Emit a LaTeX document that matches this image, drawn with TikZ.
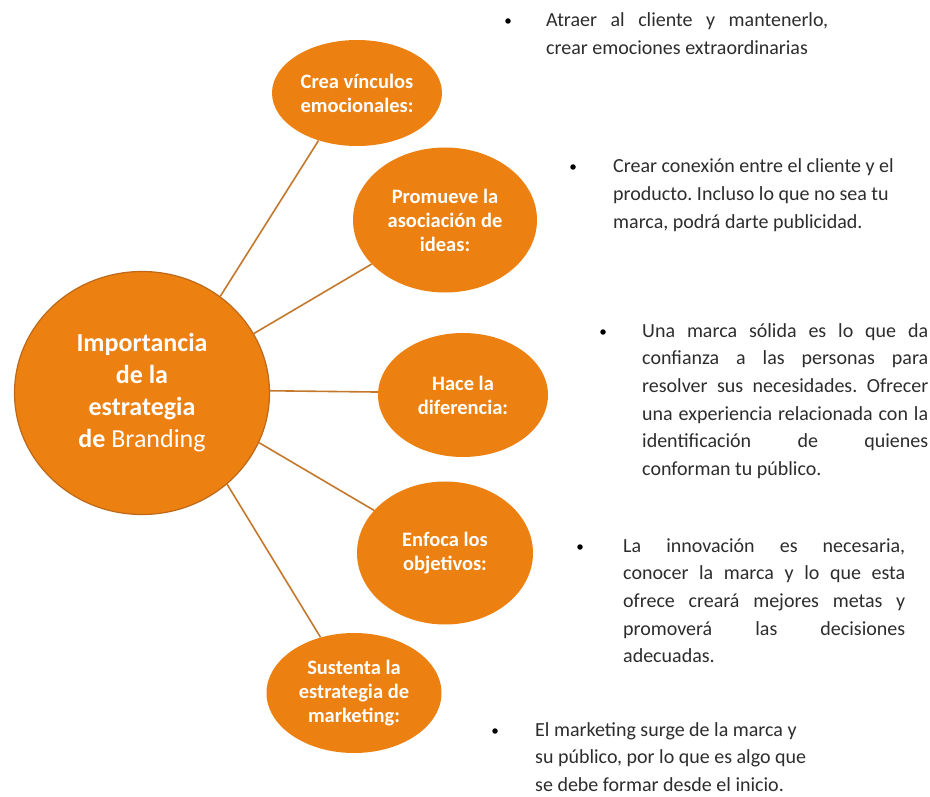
\documentclass[tikz,border=0pt]{standalone}
\usepackage{fontspec}
\setmainfont{Carlito}
\usetikzlibrary{shapes.geometric}
\definecolor{orangefill}{RGB}{236,128,16}
\definecolor{orangeedge}{RGB}{190,105,25}
\definecolor{linkcol}{RGB}{196,120,44}
\definecolor{txtcol}{RGB}{45,45,45}
\tikzset{
  hub/.style={ellipse, fill=orangefill, draw=orangeedge, line width=1.2pt, inner sep=0pt, text=white, align=center,
    font=\fontsize{26}{32}\selectfont\bfseries},
  topic/.style={ellipse, fill=orangefill, draw=none, inner sep=0pt, text=white, align=center,
    font=\fontsize{20.5}{24}\selectfont\bfseries},
  link/.style={draw=linkcol, line width=1.6pt},
  bul/.style={circle, fill=black, minimum size=5.5pt, inner sep=0pt},
  desc/.style={anchor=base west, inner sep=0pt, text=txtcol, font=\fontsize{20}{27.7}\selectfont}
}
\newcommand{\jl}[2]{\makebox[#1][s]{#2}}
\frenchspacing
\begin{document}
\begin{tikzpicture}[x=1pt,y=-1pt]
\useasboundingbox (0,0) rectangle (930,797);
\fill[white] (0,0) rectangle (930,797);

\node[hub, minimum width=255pt, minimum height=243pt] (c) at (142,393) {Importancia\\de la\\estrategia\\de {\mdseries Branding}};

\node[topic, minimum width=170pt, minimum height=106pt] (e1) at (357,93) {Crea vínculos\\emocionales:};
\node[topic, minimum width=184pt, minimum height=145pt] (e2) at (445,220) {Promueve la\\asociación de\\ideas:};
\node[topic, minimum width=170pt, minimum height=124pt] (e3) at (463,395) {Hace la\\diferencia:};
\node[topic, minimum width=176pt, minimum height=143pt] (e4) at (445,553) {Enfoca los\\objetivos:};
\node[topic, minimum width=175pt, minimum height=120pt] (e5) at (354,693) {Sustenta la\\estrategia de\\marketing:};

\draw[link] (c.51) -- (e1.231);
\draw[link] (c.28) -- (e2.211);
\draw[link] (c.1.5) -- (e3.178.6);
\draw[link] (c.-23.4) -- (e4.149);
\draw[link] (c.-47.7) -- (e5.121);

\node[bul] (b1) at (508,21) {};
\node[desc] (t1) at (546,27) {\parbox[t]{320pt}{\raggedright
\jl{282pt}{Atraer al cliente y mantenerlo,}\\
crear emociones extraordinarias}};

\node[bul] (b2) at (573,167) {};
\node[desc] (t2) at (613,173) {\parbox[t]{320pt}{\raggedright
Crear conexión entre el cliente y el\\
producto. Incluso lo que no sea tu\\
marca, podrá darte publicidad.}};

\node[bul] (b3) at (603,332) {};
\node[desc] (t3) at (642,337) {\parbox[t]{320pt}{\raggedright
\jl{286pt}{Una marca sólida es lo que da}\\
\jl{286pt}{confianza a las personas para}\\
\jl{286pt}{resolver sus necesidades. Ofrecer}\\
\jl{286pt}{una experiencia relacionada con la}\\
\jl{286pt}{identificación de quienes}\\
conforman tu público.}};

\node[bul] (b4) at (580,547) {};
\node[desc] (t4) at (623,552) {\parbox[t]{320pt}{\raggedright
\jl{282pt}{La innovación es necesaria,}\\
\jl{282pt}{conocer la marca y lo que esta}\\
\jl{282pt}{ofrece creará mejores metas y}\\
\jl{282pt}{promoverá las decisiones}\\
adecuadas.}};

\node[bul] (b5) at (495,731) {};
\node[desc] (t5) at (535,736) {\parbox[t]{320pt}{\raggedright
El marketing surge de la marca y\\
su público, por lo que es algo que\\
se debe formar desde el inicio.}};
\end{tikzpicture}
\end{document}
